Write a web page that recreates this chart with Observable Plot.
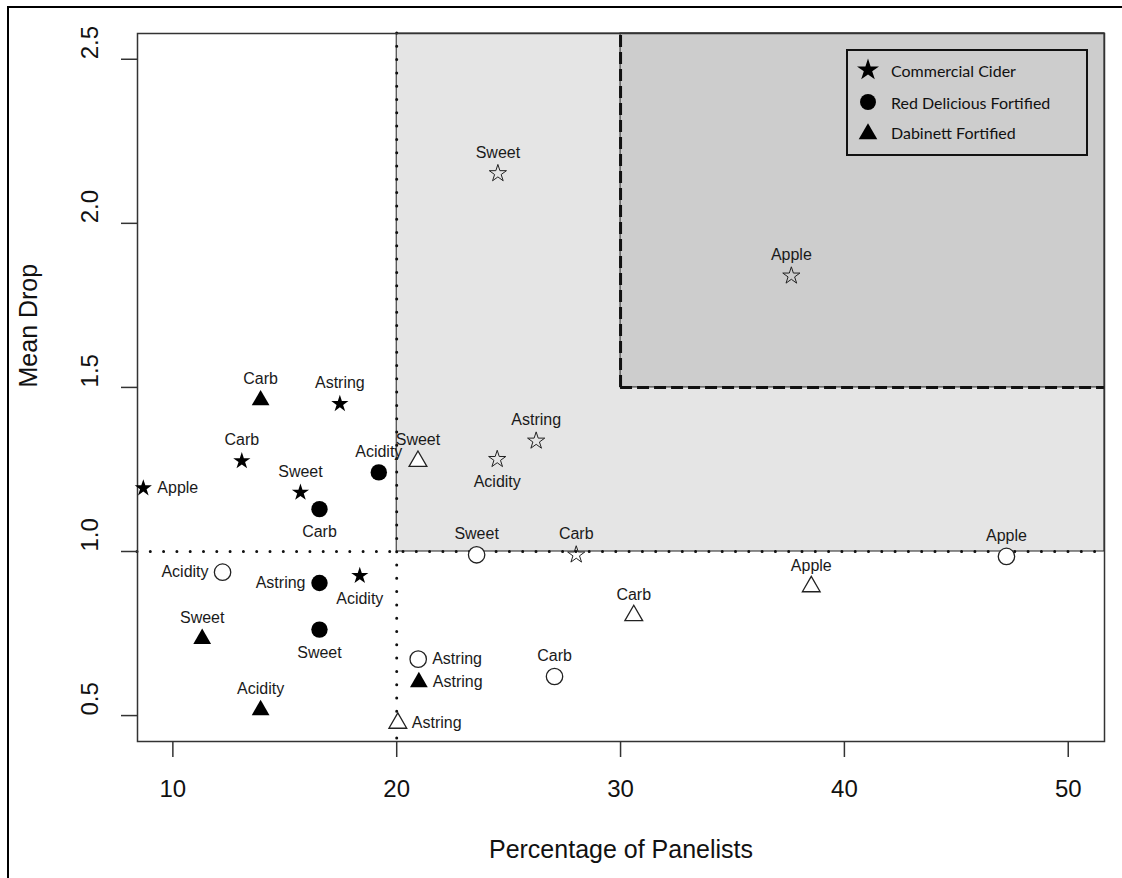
<!DOCTYPE html>
<html><head><meta charset="utf-8">
<script src="https://cdn.jsdelivr.net/npm/d3@7"></script>
<script src="https://cdn.jsdelivr.net/npm/@observablehq/plot@0.6"></script>
<style>
html,body{margin:0;padding:0;background:#fff;overflow:hidden;}
#wrap{position:relative;width:1122px;height:878px;overflow:hidden;}
#outer{position:absolute;left:7px;top:6px;width:1130px;height:900px;border:2px solid #000;box-sizing:border-box;pointer-events:none;}
#legend{position:absolute;left:846px;top:49px;width:242px;height:107px;border:2px solid #111;box-sizing:border-box;}
</style></head><body><div id="wrap"><div id="chart"></div><div id="legend"></div><div id="outer"></div></div>
<script>
// ---- data ----
const products = ["Commercial Cider", "Red Delicious Fortified", "Dabinett Fortified"];
const attributes = ["Apple", "Sweet", "Acidity", "Astring", "Carb"];

// Commercial Cider (stars)
const ccFilledPct  = [8.68, 15.70, 18.35, 17.46, 13.08];
const ccFilledDrop = [1.193, 1.18, 0.926, 1.45, 1.276];
const ccFilledPos  = ["right", "above", "below", "above", "above"];
const ccOpenPct    = [37.63, 24.52, 24.49, 26.23, 28.02];
const ccOpenDrop   = [1.84, 2.152, 1.281, 1.337, 0.99];
const ccOpenPos    = ["above", "above", "below", "above", "above"];

// Red Delicious Fortified (circles)
const rdFilledPct  = [null, 16.55, 19.20, 16.55, 16.55];
const rdFilledDrop = [null, 0.762, 1.241, 0.904, 1.129];
const rdFilledPos  = [null, "below", "above", "left", "below"];
const rdOpenPct    = [47.24, 23.57, 12.22, 20.96, 27.05];
const rdOpenDrop   = [0.985, 0.99, 0.937, 0.672, 0.619];
const rdOpenPos    = ["above", "above", "left", "right", "above"];

// Dabinett Fortified (triangles)
const dbFilledPct  = [null, 11.31, 13.92, 20.99, 13.92];
const dbFilledDrop = [null, 0.734, 0.517, 0.602, 1.461];
const dbFilledPos  = [null, "above", "above", "right", "above"];
const dbOpenPct    = [38.52, 20.95, null, 20.05, 30.59];
const dbOpenDrop   = [0.893, 1.275, null, 0.477, 0.805];
const dbOpenPos    = ["above", "above", null, "right", "above"];

const xTicks = [10, 20, 30, 40, 50];
const yTicks = [0.5, 1.0, 1.5, 2.0, 2.5];
const panelCut = [20, 30];   // percentage thresholds
const dropCut = [1.0, 1.5];  // mean drop thresholds
const xDomain = [8.42, 51.62];
const yDomain = [0.421, 2.5785];

// ---- build table ----
function series(product, filled, pct, drop, pos) {
  return attributes.map((a, i) => ({product, filled, attribute: a, pct: pct[i], drop: drop[i], pos: pos[i]}))
    .filter(d => d.pct != null);
}
const points = [
  ...series(products[0], true, ccFilledPct, ccFilledDrop, ccFilledPos),
  ...series(products[0], false, ccOpenPct, ccOpenDrop, ccOpenPos),
  ...series(products[1], true, rdFilledPct, rdFilledDrop, rdFilledPos),
  ...series(products[1], false, rdOpenPct, rdOpenDrop, rdOpenPos),
  ...series(products[2], true, dbFilledPct, dbFilledDrop, dbFilledPos),
  ...series(products[2], false, dbOpenPct, dbOpenDrop, dbOpenPos)
];
const symbolOf = {[products[0]]: "star", [products[1]]: "circle", [products[2]]: "triangle"};
const rOf = {star: 5.4, circle: 8.2, triangle: 6.6};

const dotMarks = [];
for (const p of products) {
  const sym = symbolOf[p];
  dotMarks.push(Plot.dot(points.filter(d => d.product === p && !d.filled), {
    x: "pct", y: "drop", symbol: () => sym, r: rOf[sym],
    fill: sym === "star" ? "none" : "white", stroke: "#222", strokeWidth: sym === "star" ? 1 : 1.3
  }));
  dotMarks.push(Plot.dot(points.filter(d => d.product === p && d.filled), {
    x: "pct", y: "drop", symbol: () => sym, r: rOf[sym], fill: "black", stroke: "none"
  }));
}
const labelFont = {fontSize: 16, fill: "#1a1a1a", text: "attribute", x: "pct", y: "drop"};
const labelMarks = [
  Plot.text(points.filter(d => d.pos === "above"), {...labelFont, dy: -21}),
  Plot.text(points.filter(d => d.pos === "below"), {...labelFont, dy: 23}),
  Plot.text(points.filter(d => d.pos === "left"), {...labelFont, dx: -14, textAnchor: "end"}),
  Plot.text(points.filter(d => d.pos === "right"), {...labelFont, dx: 14, textAnchor: "start"})
];

const chart = Plot.plot({
  width: 1122, height: 878,
  marginLeft: 137, marginRight: 18, marginTop: 33, marginBottom: 137,
  x: {domain: xDomain, label: null},
  y: {domain: yDomain, label: null},
  symbol: {type: "identity"},
  style: {fontFamily: "'Liberation Sans', Arial, sans-serif", background: "transparent", color: "#111"},
  marks: [
    Plot.rect([0], {x1: panelCut[0], x2: xDomain[1], y1: dropCut[0], y2: yDomain[1], fill: "#e5e5e5", stroke: "#222", strokeWidth: 1}),
    Plot.rect([0], {x1: panelCut[1], x2: xDomain[1], y1: dropCut[1], y2: yDomain[1], fill: "#cdcdcd", stroke: "#222", strokeWidth: 1}),
    Plot.ruleX([panelCut[0]], {stroke: "#111", strokeWidth: 3, strokeDasharray: "0,13.3", strokeLinecap: "round"}),
    Plot.ruleY([dropCut[0]], {stroke: "#111", strokeWidth: 3, strokeDasharray: "0,13.3", strokeLinecap: "round"}),
    Plot.ruleX([panelCut[1]], {y1: dropCut[1], y2: yDomain[1], stroke: "#111", strokeWidth: 3, strokeDasharray: "12,5"}),
    Plot.ruleY([dropCut[1]], {x1: panelCut[1], x2: xDomain[1], stroke: "#111", strokeWidth: 3, strokeDasharray: "12,5"}),
    Plot.frame({stroke: "#333", strokeWidth: 1.5}),
    Plot.axisX({ticks: xTicks, tickSize: 16, tickPadding: 22, fontSize: 24, tickFormat: d => String(d), stroke: "#333", strokeWidth: 1.5, label: null}),
    Plot.axisY({ticks: yTicks, tickSize: 16, tickFormat: () => "", stroke: "#333", strokeWidth: 1.5, label: null}),
    Plot.text(yTicks, {y: d => d, frameAnchor: "left", dx: -47, rotate: -90, text: d => d.toFixed(1), fontSize: 24, fill: "#111"}),
    Plot.text(["Percentage of Panelists"], {frameAnchor: "bottom", dy: 116, text: d => d, fontSize: 25, fill: "#111"}),
    Plot.text(["Mean Drop"], {frameAnchor: "left", dx: -109, rotate: -90, text: d => d, fontSize: 25, fill: "#111"}),
    ...dotMarks,
    ...labelMarks
  ]
});
document.getElementById("chart").appendChild(chart);

// ---- legend ----
const lg = d3.select("#legend").append("svg").attr("width", 238).attr("height", 103);
const legendSym = [
  {name: products[0], type: d3.symbolStar, size: 150},
  {name: products[1], type: d3.symbolCircle, size: 200},
  {name: products[2], type: d3.symbolTriangle, size: 150}
];
const rowsY = [19, 51, 81];
legendSym.forEach((s, i) => {
  lg.append("path").attr("d", d3.symbol(s.type, s.size)()).attr("transform", `translate(20,${rowsY[i] + (i === 2 ? 2 : 0)})`).attr("fill", "#000");
  lg.append("text").attr("x", 43).attr("y", rowsY[i]).attr("dominant-baseline", "central")
    .attr("font-family", "Lato, 'Open Sans', sans-serif").attr("font-size", 16).attr("fill", "#111").text(s.name);
});
</script></body></html>
